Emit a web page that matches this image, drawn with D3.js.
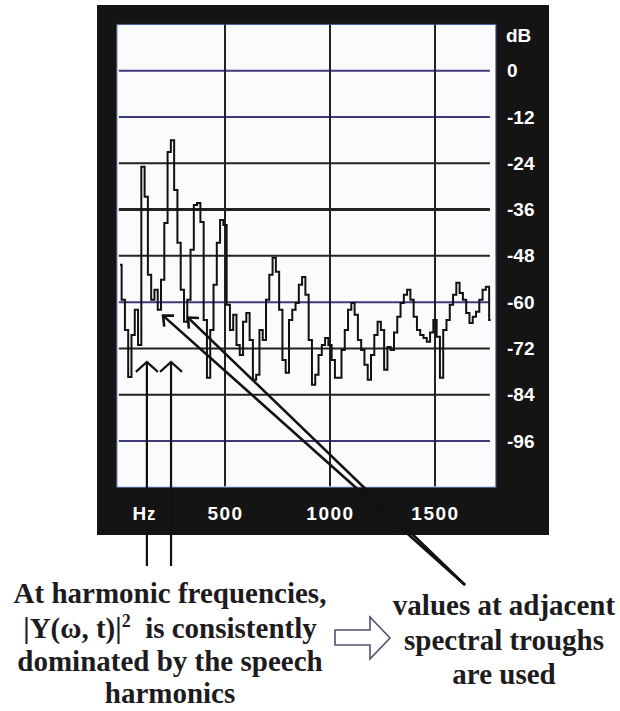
<!DOCTYPE html>
<html>
<head>
<meta charset="utf-8">
<script src="https://cdn.jsdelivr.net/npm/d3@7/dist/d3.min.js"></script>
<style>
  html, body { margin: 0; padding: 0; background: #fff; }
  svg { display: block; }
</style>
</head>
<body>
<svg id="chart" width="620" height="711"></svg>
<script>
// Short-time spectrum, one value per FFT bin (dB)
const binWidthHz = 15.625;
const spectrumDb = [
  -50.3, -59.4, -67.2, -79.4, -68.5, -62.0, -71.1, -24.9, -32.7, -52.9,
  -59.4, -56.8, -62.0, -54.2, -39.5, -21.1, -18.0, -30.9, -44.6, -56.8,
  -65.1, -59.4, -46.4, -34.8, -34.3, -39.2, -64.6, -79.6, -67.2, -55.5,
  -44.6, -38.7, -40.0, -60.7, -67.2, -63.3, -71.1, -73.7, -65.1, -62.8,
  -69.8, -80.1, -78.8, -67.2, -69.8, -59.4, -52.9, -48.5, -52.1, -62.0,
  -75.0, -78.3, -64.6, -62.0, -60.2, -55.5, -53.5, -58.1, -69.8, -81.4,
  -78.8, -73.7, -71.1, -69.3, -71.1, -75.0, -79.6, -79.6, -72.4, -67.2,
  -62.0, -60.2, -63.3, -69.8, -72.4, -76.2, -80.1, -73.7, -68.5, -65.1,
  -67.2, -77.5, -71.6, -72.4, -67.9, -63.8, -60.2, -58.1, -56.8, -59.4,
  -63.8, -67.2, -68.5, -69.3, -70.3, -67.9, -64.6, -69.0, -79.6, -67.2,
  -64.6, -60.7, -58.1, -55.0, -57.6, -59.4, -62.8, -65.4, -63.8, -62.5,
  -59.4, -56.8, -56.0, -64.6
];

// Axis ticks
const dbTicks = [0, -12, -24, -36, -48, -60, -72, -84, -96];
const dbTickLabels = ["0", "-12", "-24", "-36", "-48", "-60", "-72", "-84", "-96"];
const tintedDbLines = [0, -12, -60, -96];
const heavyDbLines = [-36];
const hzTicks = [500, 1000, 1500];
const hzTickLabels = ["500", "1000", "1500"];

// Annotations: harmonic positions and the neighbouring spectral troughs
const harmonicHz = [128, 243];
const harmonicArrowDb = -75.5;
const troughHz = [205, 324];
const troughDb = [-63.5, -64.0];

const leftNote = ["At harmonic frequencies,", null, "dominated by the speech", "harmonics"];
const rightNote = ["values at adjacent", "spectral troughs", "are used"];

const svg = d3.select("#chart");

const x = d3.scaleLinear().domain([0, 1800]).range([120, 498]);
const y = d3.scaleLinear().domain([0, -96]).range([70.7, 441]);

const plotL = x(-15), plotR = x(1790), plotT = y(12), plotB = y(-108);

// Instrument frame
svg.append("rect")
  .attr("x", 97).attr("y", 5).attr("width", 452).attr("height", 530)
  .attr("fill", "#141414");

svg.append("rect")
  .attr("x", plotL).attr("y", plotT)
  .attr("width", plotR - plotL).attr("height", plotB - plotT)
  .attr("fill", "#fbfbfd")
  .attr("stroke", "#4a5a9a").attr("stroke-width", 1);

svg.append("clipPath").attr("id", "plotClip")
  .append("rect")
  .attr("x", plotL).attr("y", plotT)
  .attr("width", plotR - plotL).attr("height", plotB - plotT);

// Grid
const grid = svg.append("g");
grid.selectAll("line.h").data(dbTicks).join("line")
  .attr("class", "h")
  .attr("x1", plotL + 2).attr("x2", plotR - 6)
  .attr("y1", d => y(d)).attr("y2", d => y(d))
  .attr("stroke", d => tintedDbLines.includes(d) ? "#3f3a7a" : "#222")
  .attr("stroke-width", d => heavyDbLines.includes(d) ? 3 : 2);

grid.selectAll("line.v").data(hzTicks).join("line")
  .attr("class", "v")
  .attr("x1", d => x(d)).attr("x2", d => x(d))
  .attr("y1", plotT).attr("y2", plotB - 1)
  .attr("stroke", "#222").attr("stroke-width", 2);

// Spectrum trace
const line = d3.line()
  .x((d, i) => x(i * binWidthHz))
  .y(d => y(d))
  .curve(d3.curveStep);

svg.append("path")
  .datum(spectrumDb)
  .attr("clip-path", "url(#plotClip)")
  .attr("d", line)
  .attr("fill", "none")
  .attr("stroke", "#111")
  .attr("stroke-width", 2)
  .attr("stroke-linejoin", "miter");

const labelFont = "'Liberation Sans', Arial, sans-serif";

// dB axis on the right
const yAxis = d3.axisRight(y)
  .tickValues(dbTicks)
  .tickFormat((d, i) => dbTickLabels[i])
  .tickSize(0).tickPadding(0);
const ya = svg.append("g").attr("transform", "translate(507,0)").call(yAxis);
ya.select(".domain").remove();
ya.selectAll("text")
  .attr("fill", "#fff")
  .style("font-family", labelFont)
  .style("font-weight", "bold")
  .style("font-size", "19px");

svg.append("text")
  .attr("x", 506).attr("y", 42)
  .attr("fill", "#fff")
  .style("font-family", labelFont)
  .style("font-weight", "bold")
  .style("font-size", "19px")
  .text("dB");

// Hz axis along the bottom
const xAxis = d3.axisBottom(x)
  .tickValues(hzTicks)
  .tickFormat((d, i) => hzTickLabels[i])
  .tickSize(0).tickPadding(0);
const xa = svg.append("g").attr("transform", "translate(0,506)").call(xAxis);
xa.select(".domain").remove();
xa.selectAll("text")
  .attr("fill", "#fff")
  .style("font-family", labelFont)
  .style("font-weight", "bold")
  .style("font-size", "19px")
  .style("letter-spacing", "1.5px");

svg.append("text")
  .attr("x", 144).attr("y", 520)
  .attr("text-anchor", "middle")
  .attr("fill", "#fff")
  .style("font-family", labelFont)
  .style("font-weight", "bold")
  .style("font-size", "19px")
  .text("Hz");

// Harmonic arrows (pointing up from the note below)
const ann = svg.append("g")
  .attr("stroke", "#111").attr("fill", "none")
  .attr("stroke-linecap", "butt");

harmonicHz.forEach(f => {
  const hx = x(f), tip = y(harmonicArrowDb);
  ann.append("line")
    .attr("x1", hx).attr("x2", hx).attr("y1", tip).attr("y2", 566)
    .attr("stroke-width", 2.2);
  ann.append("path")
    .attr("d", `M${hx - 11},${tip + 10}L${hx},${tip}L${hx + 11},${tip + 10}`)
    .attr("stroke-width", 2.2);
});

// Trough arrows from the right-hand note
const origin = [465, 585];
troughHz.forEach((f, i) => {
  const tx = x(f), ty = y(troughDb[i]);
  ann.append("line")
    .attr("x1", origin[0]).attr("y1", origin[1])
    .attr("x2", tx).attr("y2", ty)
    .attr("stroke-width", 2.6);
  const dx = origin[0] - tx, dy = origin[1] - ty;
  const a = Math.atan2(dy, dx), h = 42 * Math.PI / 180, L = 11;
  const p1 = [tx + L * Math.cos(a - h), ty + L * Math.sin(a - h)];
  const p2 = [tx + L * Math.cos(a + h), ty + L * Math.sin(a + h)];
  ann.append("path")
    .attr("d", `M${p1[0]},${p1[1]}L${tx},${ty}L${p2[0]},${p2[1]}`)
    .attr("stroke-width", 2.6);
});

// Hollow arrow between the two notes
svg.append("path")
  .attr("d", "M335,630L370,630L370,617L390,638L370,659L370,645L335,645Z")
  .attr("fill", "#fff")
  .attr("stroke", "#4d5370")
  .attr("stroke-width", 1.6)
  .attr("stroke-linejoin", "miter");

// Notes
const noteFont = "'Liberation Serif', 'Times New Roman', serif";
const leftBaselines = [603, 638, 671, 703];
const left = svg.append("g")
  .attr("fill", "#1d1b20")
  .style("font-family", noteFont)
  .style("font-weight", "bold")
  .style("font-size", "29px");

leftNote.forEach((t, i) => {
  const tx = left.append("text")
    .attr("x", 170).attr("y", leftBaselines[i])
    .attr("text-anchor", "middle")
    .style("white-space", "pre");
  if (t !== null) {
    tx.text(t);
  } else {
    tx.append("tspan").text("|Y(ω, t)|");
    tx.append("tspan").attr("dy", -11).style("font-size", "18px").text("2");
    tx.append("tspan").attr("dy", 11).text("  is consistently");
  }
});

const rightBaselines = [615, 650, 684];
svg.append("g")
  .attr("fill", "#1d1b20")
  .style("font-family", noteFont)
  .style("font-weight", "bold")
  .style("font-size", "29px")
  .selectAll("text").data(rightNote).join("text")
  .attr("x", 504).attr("y", (d, i) => rightBaselines[i])
  .attr("text-anchor", "middle")
  .text(d => d);
</script>
</body>
</html>
